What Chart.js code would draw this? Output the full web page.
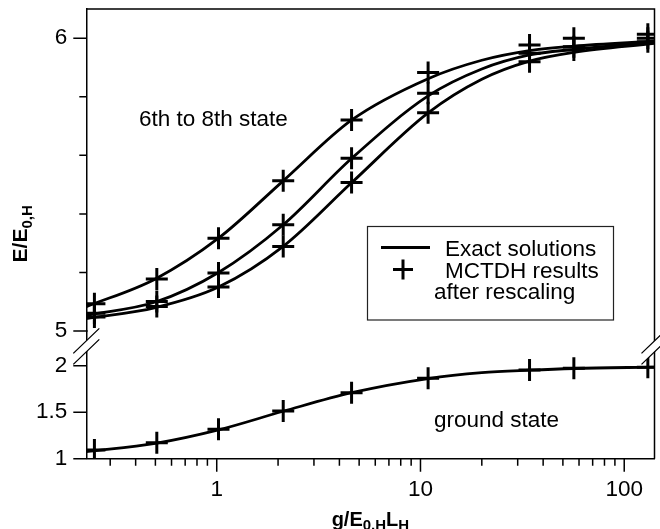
<!DOCTYPE html>
<html><head><meta charset="utf-8">
<script src="https://cdn.jsdelivr.net/npm/chart.js@4.4.1/dist/chart.umd.min.js"></script>
<style>html,body{margin:0;padding:0;background:#fff;}#wrap{width:660px;height:529px;position:relative;}</style>
</head><body><div id="wrap"><canvas id="c" width="660" height="529"></canvas></div>
<script>
// ----- data -----
const curveX = [0.229, 0.5, 1.02, 2.12, 4.6, 10.9, 20, 34.3, 56.6, 140.8];
const exact6 = [5.083, 5.178, 5.317, 5.513, 5.721, 5.862, 5.925, 5.958, 5.973, 5.990];
const exact7 = [5.054, 5.099, 5.200, 5.363, 5.590, 5.803, 5.895, 5.943, 5.962, 5.987];
const exact8 = [5.042, 5.080, 5.150, 5.289, 5.507, 5.745, 5.860, 5.922, 5.952, 5.983];
const exactGround = [1.075, 1.165, 1.310, 1.510, 1.710, 1.862, 1.925, 1.952, 1.970, 1.985];

const mctdhX = [0.251, 0.508, 1.02, 2.12, 4.59, 10.9, 34.3, 56.6, 130.6];
const mctdh6 = [5.093, 5.178, 5.317, 5.513, 5.721, 5.883, 5.977, 6.000, 6.014];
const mctdh7 = [5.061, 5.101, 5.198, 5.363, 5.590, 5.812, 5.949, 5.971, 6.000];
const mctdh8 = [5.048, 5.084, 5.150, 5.289, 5.507, 5.746, 5.920, 5.960, 5.988];
const mctdhGround = [1.094, 1.172, 1.316, 1.513, 1.710, 1.865, 1.954, 1.972, 1.983];

const xTicks = [0.3,0.4,0.5,0.6,0.7,0.8,0.9,1,2,3,4,5,6,7,8,9,10,20,30,40,50,60,70,80,90,100];
const xTickLabels = [1, 10, 100];
const yUpperTicks = [5,5.1,5.2,5.3,5.4,5.5,5.6,5.7,5.8,5.9,6];
const yUpperLabels = [5, 5.5, 6];
const yLowerTicks = [1,1.25,1.5,1.75,2];
const yLowerLabels = [1, 1.5, 2];
const legendLabels = ['Exact solutions', 'MCTDH results', 'after rescaling'];
const stateLabels = ['6th to 8th state', 'ground state'];
const yTitleParts = [['E/E', false], ['0,H', true]];
const xTitleParts = [['g/E', false], ['0,H', true], ['L', false], ['H', true]];

// ----- chart -----
const FAM = '"Liberation Sans", Arial, sans-serif';
const FS = 22.5;
const pts = (xs, ys) => xs.map((x, i) => ({x: x, y: ys[i]}));
function curve(label, ys, axis) {
  return {label, data: pts(curveX, ys), yAxisID: axis, borderColor: '#000', backgroundColor: '#000',
    borderWidth: 2.8, pointRadius: 0, fill: false, cubicInterpolationMode: 'monotone', clip: 0};
}
function marks(label, ys, axis) {
  return {label, data: pts(mctdhX, ys), yAxisID: axis, showLine: false, pointStyle: 'cross',
    pointRadius: 11, pointBorderWidth: 3, borderColor: '#000', backgroundColor: '#000', clip: 0};
}
const tickGrid = {display: true, drawOnChartArea: false, drawTicks: true, tickLength: 13, tickColor: 'rgba(0,0,0,0)'};
const border = {display: true, color: '#000', width: 1.5};
const noPad = s => { s.paddingTop = 0; s.paddingBottom = 0; s.paddingLeft = 0; s.paddingRight = 0; };

function drawParts(ctx, parts, cx, baseline, mainSize, subSize, subShift) {
  const fonts = parts.map(p => 'bold ' + (p[1] ? subSize : mainSize) + 'px ' + FAM);
  let total = 0;
  const widths = parts.map((p, i) => { ctx.font = fonts[i]; const w = ctx.measureText(p[0]).width; total += w; return w; });
  let x = cx - total / 2;
  ctx.textAlign = 'left'; ctx.textBaseline = 'alphabetic';
  parts.forEach((p, i) => { ctx.font = fonts[i]; ctx.fillText(p[0], x, baseline + (p[1] ? subShift : 0)); x += widths[i]; });
}

const decor = {
  id: 'decor',
  afterDraw(chart) {
    const ctx = chart.ctx, a = chart.chartArea;
    const sx = chart.scales.x, yU = chart.scales.yU, yL = chart.scales.yL;
    ctx.save();
    ctx.strokeStyle = '#000'; ctx.fillStyle = '#000'; ctx.lineWidth = 1.5;
    // top and right frame
    ctx.beginPath();
    ctx.moveTo(a.left, a.top); ctx.lineTo(a.right, a.top); ctx.lineTo(a.right, a.bottom);
    ctx.stroke();
    // ticks
    ctx.beginPath();
    sx.ticks.forEach(t => {
      const p = sx.getPixelForValue(t.value), len = xTickLabels.includes(t.value) ? 13 : 7;
      ctx.moveTo(p, sx.top); ctx.lineTo(p, sx.top + len);
    });
    [[yU, yUpperLabels], [yL, yLowerLabels]].forEach(([s, labs]) => {
      s.ticks.forEach(t => {
        const p = s.getPixelForValue(t.value), len = labs.includes(t.value) ? 13 : 7;
        ctx.moveTo(s.right - len, p); ctx.lineTo(s.right, p);
      });
    });
    ctx.stroke();
    // axis breaks
    const cy = (yU.getPixelForValue(5) + yL.getPixelForValue(2)) / 2 - 2;
    [a.left, a.right].forEach(cx => {
      ctx.beginPath();
      ctx.moveTo(cx - 13, cy - 5.5 + 12.5); ctx.lineTo(cx + 13, cy - 5.5 - 12.5);
      ctx.lineTo(cx + 13, cy + 5.5 - 12.5); ctx.lineTo(cx - 13, cy + 5.5 + 12.5); ctx.closePath();
      ctx.fillStyle = '#fff'; ctx.fill();
      ctx.beginPath();
      ctx.moveTo(cx - 13, cy - 5.5 + 12.5); ctx.lineTo(cx + 13, cy - 5.5 - 12.5);
      ctx.moveTo(cx - 13, cy + 5.5 + 12.5); ctx.lineTo(cx + 13, cy + 5.5 - 12.5);
      ctx.lineWidth = 1.3; ctx.stroke();
    });
    ctx.fillStyle = '#000';
    // state labels
    ctx.font = FS + 'px ' + FAM; ctx.textAlign = 'left'; ctx.textBaseline = 'alphabetic';
    ctx.fillText(stateLabels[0], 139, 126);
    ctx.fillText(stateLabels[1], 434, 426.5);
    // legend
    ctx.fillStyle = '#fff'; ctx.fillRect(367.5, 226.5, 246, 93.5);
    ctx.strokeStyle = '#222'; ctx.lineWidth = 1.2; ctx.strokeRect(367.5, 226.5, 246, 93.5);
    ctx.strokeStyle = '#000'; ctx.lineWidth = 3;
    ctx.beginPath(); ctx.moveTo(381, 247.5); ctx.lineTo(430, 247.5);
    ctx.moveTo(393, 269.5); ctx.lineTo(413, 269.5); ctx.moveTo(403, 259.5); ctx.lineTo(403, 279.5);
    ctx.stroke();
    ctx.fillStyle = '#000'; ctx.font = FS + 'px ' + FAM;
    ctx.fillText(legendLabels[0], 445, 256);
    ctx.fillText(legendLabels[1], 445, 277.5);
    ctx.fillText(legendLabels[2], 434, 299);
    // axis titles
    drawParts(ctx, xTitleParts, (a.left + a.right) / 2, 526, 20, 15, 4);
    ctx.save();
    ctx.translate(27, (a.top + a.bottom) / 2);
    ctx.rotate(-Math.PI / 2);
    drawParts(ctx, yTitleParts, 0, 0, 21, 15, 4.5);
    ctx.restore();
    ctx.restore();
  }
};

new Chart(document.getElementById('c'), {
  type: 'line',
  data: {
    datasets: [
      curve('Exact solutions (6th state)', exact6, 'yU'),
      curve('Exact solutions (7th state)', exact7, 'yU'),
      curve('Exact solutions (8th state)', exact8, 'yU'),
      curve('Exact solutions (ground state)', exactGround, 'yL'),
      marks('MCTDH (6th state)', mctdh6, 'yU'),
      marks('MCTDH (7th state)', mctdh7, 'yU'),
      marks('MCTDH (8th state)', mctdh8, 'yU'),
      marks('MCTDH (ground state)', mctdhGround, 'yL')
    ]
  },
  options: {
    responsive: false, animation: false, events: [],
    layout: {autoPadding: false, padding: {top: 9, right: 5.5, bottom: 0, left: 0}},
    plugins: {legend: {display: false}, tooltip: {enabled: false}, title: {display: false}},
    scales: {
      x: {
        type: 'logarithmic', position: 'bottom', min: 0.229, max: 140.8,
        afterBuildTicks: s => { s.ticks = xTicks.map(v => ({value: v, major: false})); },
        afterFit: s => { s.height = 70.3; noPad(s); },
        ticks: {autoSkip: false, maxRotation: 0, minRotation: 0, padding: 5, color: '#000',
          font: {family: FAM, size: FS}, callback: v => xTickLabels.includes(v) ? String(v) : ''},
        grid: tickGrid, border: border
      },
      yU: {
        type: 'linear', position: 'left', stack: 'ybreak', stackWeight: 322, weight: 1, min: 5, max: 6.1,
        afterBuildTicks: s => { s.ticks = yUpperTicks.map(v => ({value: v})); },
        afterFit: s => { s.width = 86.3; noPad(s); },
        ticks: {padding: 6, color: '#000', font: {family: FAM, size: FS},
          callback: v => yUpperLabels.includes(v) ? String(v) : ''},
        grid: tickGrid, border: border
      },
      yL: {
        type: 'linear', position: 'left', stack: 'ybreak', stackWeight: 127.7, weight: 0, min: 1, max: 2.373,
        afterBuildTicks: s => { s.ticks = yLowerTicks.map(v => ({value: v})); },
        afterFit: s => { s.width = 86.3; noPad(s); },
        ticks: {padding: 6, color: '#000', font: {family: FAM, size: FS},
          callback: v => yLowerLabels.includes(v) ? String(v) : ''},
        grid: tickGrid, border: border
      }
    }
  },
  plugins: [decor]
});
</script>
</body></html>
